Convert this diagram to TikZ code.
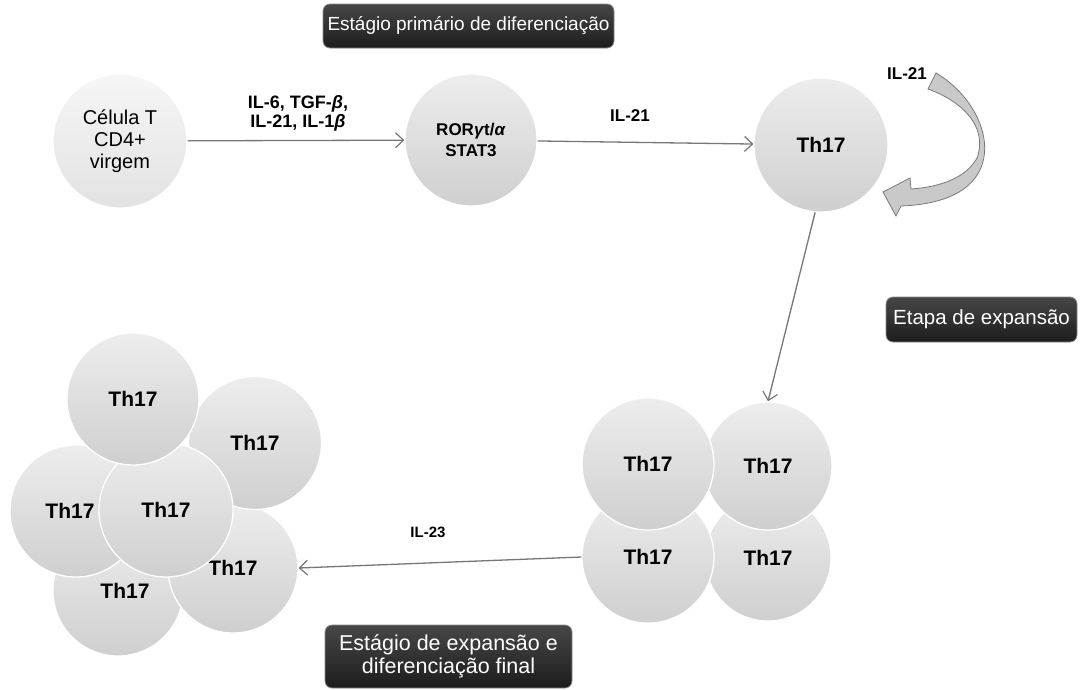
\documentclass[tikz,border=0pt]{standalone}
\usepackage{fontspec}
\setmainfont{Liberation Sans}
\usetikzlibrary{arrows.meta}
\definecolor{cellA}{HTML}{EDEDED}
\definecolor{cellB}{HTML}{CFCFCF}
\definecolor{naiveA}{HTML}{F6F6F6}
\definecolor{naiveB}{HTML}{E2E2E2}
\definecolor{boxA}{HTML}{474747}
\definecolor{boxB}{HTML}{1C1C1C}
\definecolor{boxEdge}{HTML}{8A8A8A}
\definecolor{arrowGray}{HTML}{777777}
\definecolor{loopFill}{HTML}{C9C9C9}
\definecolor{loopEdge}{HTML}{7A7A7A}
\begin{document}
\begin{tikzpicture}[x=1pt,y=-1pt,
  cell/.style={circle, inner sep=0pt, minimum size=#1, top color=cellA, bottom color=cellB,
    draw=white, line width=1.3pt, align=center, font=\fontsize{21}{24}\selectfont\bfseries},
  cell/.default=133pt,
  naive/.style={circle, inner sep=0pt, minimum size=#1, top color=naiveA, bottom color=naiveB,
    draw=white, line width=1.3pt, align=center, font=\fontsize{20}{22}\selectfont},
  darkbox/.style={rounded corners=7pt, top color=boxA, bottom color=boxB, draw=boxEdge,
    line width=0.8pt, text=white, inner sep=0pt, align=center},
  arr/.style={draw=arrowGray, line width=1.3pt, -{Straight Barb[length=8pt,width=15pt,line width=1.2pt]}},
  lab/.style={font=\fontsize{17}{19}\selectfont\bfseries, align=center, inner sep=0pt},
]
\useasboundingbox (0,0) rectangle (1082,689);
\fill[white] (0,0) rectangle (1082,689);

% top row
\node[naive=134pt] (naive) at (120,141) {Célula T\\CD4+\\virgem};
\node[cell=132pt, font=\fontsize{17}{21}\selectfont\bfseries] (ror) at (471,140) {ROR\textit{γ}t/\textit{α}\\STAT3};
\node[cell=134pt] (th) at (821,145) {Th17};

\draw[arr] (naive) -- (ror);
\draw[arr] (ror) -- (th);
\node[lab, font=\fontsize{18}{19}\selectfont\bfseries] (l1) at (298,113) {IL-6, TGF-\textit{β},\\IL-21, IL-1\textit{β}};
\node[lab] (l2) at (630,116) {IL-21};

% self loop block arrow
\filldraw[fill=loopFill, draw=loopEdge, line width=0.8pt]
  (936,73) .. controls (978,98) and (998,148) .. (975,178)
  .. controls (960,198) and (930,205) .. (901,206)
  -- (896,216) -- (883,192) -- (910,178) -- (911,189)
  .. controls (940,187) and (966,178) .. (977,158)
  .. controls (988,128) and (964,102) .. (928,89) -- cycle;
\node[lab] (l3) at (907,74) {IL-21};

% boxes
\node[darkbox, minimum width=291pt, minimum height=44pt, font=\fontsize{19}{22}\selectfont] (b1) at (468.5,26) {Estágio primário de diferenciação};
\node[darkbox, minimum width=191pt, minimum height=45pt, font=\fontsize{20.5}{22}\selectfont] (b2) at (981.5,319.5) {Etapa de expansão};
\node[darkbox, minimum width=247pt, minimum height=63pt, font=\fontsize{21.5}{23}\selectfont] (b3) at (448.5,656.5) {Estágio de expansão e\\diferenciação final};

% right cluster
\node[cell=126pt] (q4) at (768,558) {Th17};
\node[cell=132pt] (q3) at (648,557) {Th17};
\node[cell=128pt] (q2) at (768,466) {Th17};
\node[cell=132pt] (q1) at (648,464) {Th17};

\draw[arr] (th.265) -- (q2.north);

% left cluster
\node[cell=130pt] (c5) at (118,591) {\hspace*{14pt}Th17};
\node[cell=130pt] (c6) at (233,568) {Th17};
\node[cell=133pt] (c2) at (255,443) {Th17};
\node[cell=132pt] (c3) at (76,511) {\hspace*{-12pt}Th17};
\node[cell=134pt] (c4) at (166,510) {Th17};
\node[cell=132pt] (c1) at (133,399) {Th17};

\draw[arr] (q3.west) -- (c6.east);
\node[lab, font=\fontsize{15}{17}\selectfont\bfseries] (l4) at (428,532) {IL-23};
\end{tikzpicture}
\end{document}
